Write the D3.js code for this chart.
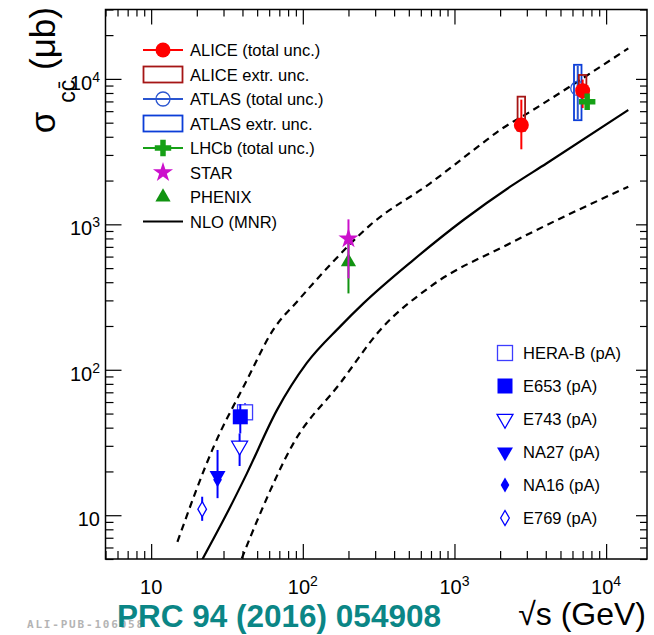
<!DOCTYPE html>
<html lang="en">
<head>
<meta charset="UTF-8">
<title>Charm production cross section vs sqrt(s)</title>
<script src="https://d3js.org/d3.v7.min.js"></script>
<style>
  body { margin: 0; background: #fff; font-family: "Liberation Sans", Arial, Helvetica, sans-serif; }
  svg { display: block; }
</style>
</head>
<body>
<svg width="654" height="635"></svg>
<script>
// NLO (MNR) curves, [sqrt(s) in GeV, sigma in microbarn]
const nloCentral = [[21.6, 4.9], [31.6, 10.3], [42.8, 19.4], [67.5, 52.8], [106, 111], [176, 198],
  [251, 286], [535, 568], [1145, 1071], [2330, 1815], [4060, 2630], [14000, 6110]];
const nloUpper = [[14.9, 6.56], [25.8, 29.5], [42.8, 84.9], [63.7, 188], [93.5, 301], [151, 525],
  [278, 988], [691, 1914], [1476, 3510], [2000, 4460], [3150, 5940], [6730, 9830], [14000, 16200]];
const nloLower = [[39.6, 5.05], [52.4, 10.3], [86.7, 31.2], [176, 80.6], [324, 188], [691, 372],
  [2330, 740], [14000, 1815]];

// pp measurements: s = sqrt(s), v = value, lo/hi = total unc., exLo/exHi = extrapolation box
const alice = [
  {s: 2760, v: 4820, lo: 3280, hi: 7200, exLo: 4400, exHi: 7550},
  {s: 7000, v: 8300, lo: 6300, hi: 9900, exLo: 7750, exHi: 10640}
];
const atlas = [{s: 6500, v: 8600, lo: 5300, hi: 12300, exLo: 5200, exHi: 12500}];
const lhcb = [{s: 7500, v: 6960, lo: 6300, hi: 7700}];
const star = [{s: 200, v: 797, lo: 425, hi: 1082}];
const phenix = [{s: 200, v: 551, lo: 335, hi: 754}];

// pA measurements
const heraB = [{s: 41.6, v: 51, lo: 43, hi: 59}];
const e653 = [{s: 38.7, v: 47.5, lo: 36.5, hi: 58}];
const e743 = [{s: 38.3, v: 30, lo: 21.8, hi: 36.5}];
const na27 = [{s: 27.4, v: 18.7, lo: 13.1, hi: 28.1}];
const na16 = [{s: 27.4, v: 17.5, lo: 17.5, hi: 17.5}];
const e769 = [{s: 21.7, v: 11.0, lo: 9.15, hi: 13.4}];

const ppLegend = ["ALICE (total unc.)", "ALICE extr. unc.", "ATLAS (total unc.)", "ATLAS extr. unc.",
  "LHCb (total unc.)", "STAR", "PHENIX", "NLO (MNR)"];
const pALegend = ["HERA-B (pA)", "E653 (pA)", "E743 (pA)", "NA27 (pA)", "NA16 (pA)", "E769 (pA)"];

const xLabelValues = [10, 100, 1000, 10000];
const yLabelValues = [10, 100, 1000, 10000];

const C = {
  alice: "#ff0000", aliceBox: "#a51515", atlas: "#2a55d0", atlasBox: "#0c3ed8",
  lhcb: "#16a016", star: "#cc10cc", phenix: "#119311", pA: "#0000ff", pAopen: "#3d3dff"
};

const svg = d3.select("svg");
const fLeft = 105.5, fRight = 647, fTop = 9.5, fBottom = 559;

const x = d3.scaleLog().domain([5, 18600]).range([fLeft, fRight]);
const y = d3.scaleLog().domain([5, 30000]).range([fBottom, fTop]);

// ticks on all four sides
const isMajor = v => Math.abs(Math.log10(v) - Math.round(Math.log10(v))) < 1e-9;
const xt = x.ticks().filter(v => v >= 5 && v <= 18600);
const yt = y.ticks().filter(v => v >= 5 && v <= 30000);

function ticks(axis, scale, values, size, tf) {
  svg.append("g")
    .attr("transform", tf)
    .call(axis(scale).tickValues(values).tickSize(size).tickFormat(""))
    .call(g => g.select(".domain").remove())
    .selectAll("line").attr("stroke", "#000").attr("stroke-width", 1.2);
}
ticks(d3.axisBottom, x, xt.filter(v => !isMajor(v)), -8, `translate(0,${fBottom})`);
ticks(d3.axisBottom, x, xt.filter(isMajor), -15, `translate(0,${fBottom})`);
ticks(d3.axisTop, x, xt.filter(v => !isMajor(v)), -7, `translate(0,${fTop})`);
ticks(d3.axisTop, x, xt.filter(isMajor), -15, `translate(0,${fTop})`);
ticks(d3.axisLeft, y, yt.filter(v => !isMajor(v)), -8, `translate(${fLeft},0)`);
ticks(d3.axisLeft, y, yt.filter(isMajor), -16, `translate(${fLeft},0)`);
ticks(d3.axisRight, y, yt.filter(v => !isMajor(v)), -7, `translate(${fRight},0)`);
ticks(d3.axisRight, y, yt.filter(isMajor), -11, `translate(${fRight},0)`);

svg.append("rect")
  .attr("x", fLeft).attr("y", fTop)
  .attr("width", fRight - fLeft).attr("height", fBottom - fTop)
  .attr("fill", "none").attr("stroke", "#000").attr("stroke-width", 1.5);

// tick labels with powers of ten
function powLabel(sel, v) {
  const e = Math.round(Math.log10(v));
  sel.append("tspan").text("10");
  if (e > 1) sel.append("tspan").attr("dy", -8).attr("font-size", 14).text(e);
}
xLabelValues.forEach(v => {
  const t = svg.append("text").attr("x", x(v)).attr("y", 594)
    .attr("text-anchor", "middle").attr("font-size", 20);
  powLabel(t, v);
});
yLabelValues.forEach(v => {
  const t = svg.append("text").attr("x", 100).attr("y", y(v) + 11)
    .attr("text-anchor", "end").attr("font-size", 20);
  powLabel(t, v);
});

// axis titles
const yTitle = svg.append("text")
  .attr("transform", "translate(55,7) rotate(-90)")
  .attr("text-anchor", "end").attr("font-size", 35);
yTitle.append("tspan").text("σ");
yTitle.append("tspan").attr("font-size", 23).attr("dy", 20).attr("dx", 9).text("cc\u0304");
yTitle.append("tspan").attr("dy", -20).text(" (μb)");

svg.append("text").attr("x", 646).attr("y", 625)
  .attr("text-anchor", "end").attr("font-size", 32).text("√s (GeV)");

svg.append("text").attr("x", 27).attr("y", 628)
  .attr("font-family", "'DejaVu Sans Mono', monospace").attr("font-weight", "bold")
  .attr("font-size", 11).attr("letter-spacing", 1.8).attr("fill", "#b4b4b4")
  .text("ALI-PUB-106058");
svg.append("text").attr("x", 117).attr("y", 627)
  .attr("font-weight", "bold").attr("font-size", 31.5).attr("fill", "#0b8686")
  .text("PRC 94 (2016) 054908");

// NLO curves
svg.append("clipPath").attr("id", "frame").append("rect")
  .attr("x", fLeft).attr("y", fTop).attr("width", fRight - fLeft).attr("height", fBottom - fTop);
const line = d3.line().x(d => x(d[0])).y(d => y(d[1])).curve(d3.curveMonotoneX);
const curves = svg.append("g").attr("clip-path", "url(#frame)").attr("fill", "none").attr("stroke", "#000");
curves.append("path").attr("d", line(nloCentral)).attr("stroke-width", 2.2);
curves.append("path").attr("d", line(nloUpper)).attr("stroke-width", 2.2).attr("stroke-dasharray", "7,5");
curves.append("path").attr("d", line(nloLower)).attr("stroke-width", 2.2).attr("stroke-dasharray", "7,5");

// markers
const sym = (type, size) => d3.symbol().type(type).size(size)();
function marker(g, kind, cx, cy) {
  const t = `translate(${cx},${cy})`;
  switch (kind) {
    case "alice": g.append("circle").attr("cx", cx).attr("cy", cy).attr("r", 7.5).attr("fill", C.alice); break;
    case "atlas": g.append("circle").attr("cx", cx).attr("cy", cy).attr("r", 7).attr("fill", "none")
      .attr("stroke", C.atlas).attr("stroke-width", 1.3); break;
    case "lhcb": g.append("path").attr("d", sym(d3.symbolCross, 150)).attr("transform", t).attr("fill", C.lhcb); break;
    case "star": g.append("path").attr("d", sym(d3.symbolStar, 125)).attr("transform", t).attr("fill", C.star); break;
    case "phenix": g.append("path").attr("d", sym(d3.symbolTriangle, 100)).attr("transform", t).attr("fill", C.phenix); break;
    case "heraB": g.append("rect").attr("x", cx - 7.5).attr("y", cy - 7.5).attr("width", 15).attr("height", 15)
      .attr("fill", "#fff").attr("stroke", C.pAopen).attr("stroke-width", 1.3); break;
    case "e653": g.append("rect").attr("x", cx - 7.5).attr("y", cy - 7.5).attr("width", 15).attr("height", 15)
      .attr("fill", C.pA); break;
    case "e743": g.append("path").attr("d", sym(d3.symbolTriangle, 110)).attr("transform", t + " rotate(180)")
      .attr("fill", "#fff").attr("stroke", C.pA).attr("stroke-width", 1.3); break;
    case "na27": g.append("path").attr("d", sym(d3.symbolTriangle, 110)).attr("transform", t + " rotate(180)")
      .attr("fill", C.pA); break;
    case "na16": g.append("path").attr("d", sym(d3.symbolDiamond, 65)).attr("transform", t).attr("fill", C.pA); break;
    case "e769": g.append("path").attr("d", sym(d3.symbolDiamond, 65)).attr("transform", t)
      .attr("fill", "#fff").attr("stroke", C.pA).attr("stroke-width", 1.3); break;
  }
}

const plot = svg.append("g");
function extrBoxes(data, color, w) {
  plot.selectAll(null).data(data).enter().append("rect")
    .attr("x", d => x(d.s) - w / 2).attr("width", w)
    .attr("y", d => y(d.exHi)).attr("height", d => y(d.exLo) - y(d.exHi))
    .attr("fill", "none").attr("stroke", color).attr("stroke-width", 1.8);
}
function errBars(data, color) {
  plot.selectAll(null).data(data).enter().append("line")
    .attr("x1", d => x(d.s)).attr("x2", d => x(d.s))
    .attr("y1", d => y(d.hi)).attr("y2", d => y(d.lo))
    .attr("stroke", color).attr("stroke-width", 2);
}
function points(data, kind) {
  data.forEach(d => marker(plot, kind, x(d.s), y(d.v)));
}

extrBoxes(atlas, C.atlasBox, 7.5);
errBars(atlas, C.atlas);
points(atlas, "atlas");
extrBoxes(alice, C.aliceBox, 7.5);
errBars(alice, C.alice);
points(alice, "alice");
errBars(lhcb, C.lhcb);
points(lhcb, "lhcb");
errBars(phenix, C.phenix);
points(phenix, "phenix");
errBars(star, C.star);
points(star, "star");

errBars(heraB, C.pAopen);
points(heraB, "heraB");
errBars(e653, C.pA);
points(e653, "e653");
errBars(e743, C.pA);
points(e743, "e743");
errBars(na27, C.pA);
points(na27, "na27");
points(na16, "na16");
errBars(e769, C.pA);
points(e769, "e769");

// legend, pp
const ppKinds = ["alice", "aliceBox", "atlas", "atlasBox", "lhcb", "star", "phenix", "nlo"];
const lg = svg.append("g");
ppLegend.forEach((label, i) => {
  const cy = 50 + i * 24.5, cx = 163;
  const k = ppKinds[i];
  if (k === "alice" || k === "atlas" || k === "lhcb") {
    lg.append("line").attr("x1", 143).attr("x2", 183).attr("y1", cy).attr("y2", cy)
      .attr("stroke", C[k]).attr("stroke-width", 2);
  }
  if (k === "nlo") {
    lg.append("line").attr("x1", 143).attr("x2", 183).attr("y1", cy).attr("y2", cy)
      .attr("stroke", "#000").attr("stroke-width", 2);
  } else if (k === "aliceBox" || k === "atlasBox") {
    lg.append("rect").attr("x", 143.5).attr("y", cy - 8).attr("width", 39).attr("height", 16)
      .attr("fill", "none").attr("stroke", C[k]).attr("stroke-width", 1.8);
  } else {
    marker(lg, k, cx, cy);
  }
  lg.append("text").attr("x", 190).attr("y", cy + 6).attr("font-size", 16.5).text(label);
});

// legend, pA
const pAKinds = ["heraB", "e653", "e743", "na27", "na16", "e769"];
pALegend.forEach((label, i) => {
  const cy = 353 + i * 33;
  marker(lg, pAKinds[i], 505, cy);
  lg.append("text").attr("x", 523).attr("y", cy + 6).attr("font-size", 16.5).text(label);
});
</script>
</body>
</html>
